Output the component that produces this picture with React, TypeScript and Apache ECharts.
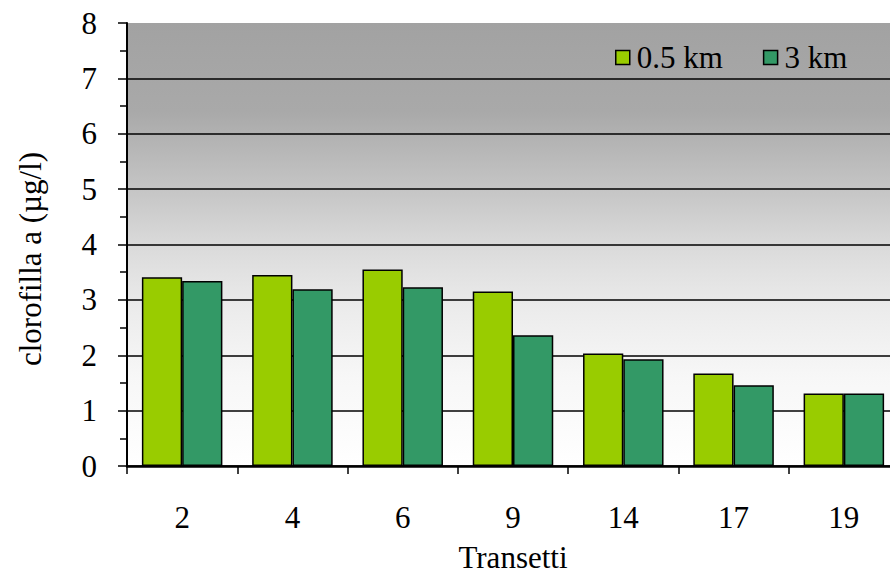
import React, { useEffect, useRef } from "react";
import * as echarts from "echarts";

const categories = ["2", "4", "6", "9", "14", "17", "19"];
const series05 = [3.41, 3.45, 3.55, 3.15, 2.03, 1.67, 1.31];
const series3 = [3.34, 3.19, 3.23, 2.36, 1.93, 1.46, 1.31];
const seriesNames = ["0.5 km", "3 km"];
const yMin = 0;
const yMax = 8;
const yInterval = 1;
const xTitle = "Transetti";
const yTitle = "clorofilla a (µg/l)";

const FONT = "'Liberation Serif', 'Times New Roman', serif";
const FS = 31;

export default function App() {
  const ref = useRef<HTMLDivElement>(null);
  useEffect(() => {
    if (!ref.current) return;
    const chart = echarts.init(ref.current, undefined, { renderer: "svg" });
    chart.setOption({
      animation: false,
      backgroundColor: "#ffffff",
      textStyle: { fontFamily: FONT, color: "#000" },
      grid: {
        left: 127,
        right: -9,
        top: 23,
        bottom: 110,
        show: true,
        borderWidth: 0,
        outerBoundsMode: "none",
        containLabel: false,
        backgroundColor: new echarts.graphic.LinearGradient(0, 0, 0, 1, [
          { offset: 0, color: "#a2a2a2" },
          { offset: 0.2, color: "#a9a9a9" },
          { offset: 0.4, color: "#c9c9c9" },
          { offset: 0.5, color: "#dadada" },
          { offset: 0.65, color: "#ececec" },
          { offset: 0.8, color: "#f7f7f7" },
          { offset: 1, color: "#ffffff" },
        ]),
      },
      graphic: [
        {
          type: "text",
          x: 30,
          y: 259,
          rotation: Math.PI / 2,
          style: {
            text: yTitle,
            fontFamily: FONT,
            fontSize: FS,
            fill: "#000",
            textAlign: "center",
            textVerticalAlign: "middle",
          },
        },
      ],
      legend: {
        left: 610,
        top: 37,
        icon: "rect",
        itemWidth: 14,
        itemHeight: 14,
        itemGap: 40,
        textStyle: { fontFamily: FONT, fontSize: FS, color: "#000", padding: [0, 0, 0, 2] },
        itemStyle: { borderColor: "#000", borderWidth: 1.5 },
        data: seriesNames,
      },
      xAxis: {
        type: "category",
        data: categories,
        name: xTitle,
        nameLocation: "middle",
        nameGap: 76,
        nameTextStyle: { fontFamily: FONT, fontSize: FS, color: "#000" },
        axisLine: { show: true, lineStyle: { color: "#000", width: 2.5 } },
        axisTick: { show: true, length: 8, lineStyle: { color: "#000", width: 1.5 } },
        axisLabel: { fontFamily: FONT, fontSize: FS, color: "#000", margin: 36 },
        splitLine: { show: false },
      },
      yAxis: {
        type: "value",
        min: yMin,
        max: yMax,
        interval: yInterval,
        axisLine: { show: true, lineStyle: { color: "#000", width: 2 } },
        axisTick: { show: true, length: 9, lineStyle: { color: "#000", width: 1.5 } },
        minorTick: { show: true, splitNumber: 2, length: 7, lineStyle: { color: "#000", width: 1.5 } },
        axisLabel: { fontFamily: FONT, fontSize: FS, color: "#000", margin: 30 },
        splitLine: { show: true, showMaxLine: false, lineStyle: { color: "#000", width: 1.5 } },
      },
      series: [
        {
          name: seriesNames[0],
          type: "bar",
          data: series05,
          barGap: "0%",
          barCategoryGap: "27%",
          itemStyle: { color: "#99cc00", borderColor: "#000", borderWidth: 1.5 },
        },
        {
          name: seriesNames[1],
          type: "bar",
          data: series3,
          barGap: "0%",
          barCategoryGap: "27%",
          itemStyle: { color: "#339966", borderColor: "#000", borderWidth: 1.5 },
        },
      ],
    });
    return () => chart.dispose();
  }, []);
  return (
    <div
      ref={ref}
      style={{ position: "fixed", left: 0, top: 0, width: 890, height: 576 }}
    />
  );
}
